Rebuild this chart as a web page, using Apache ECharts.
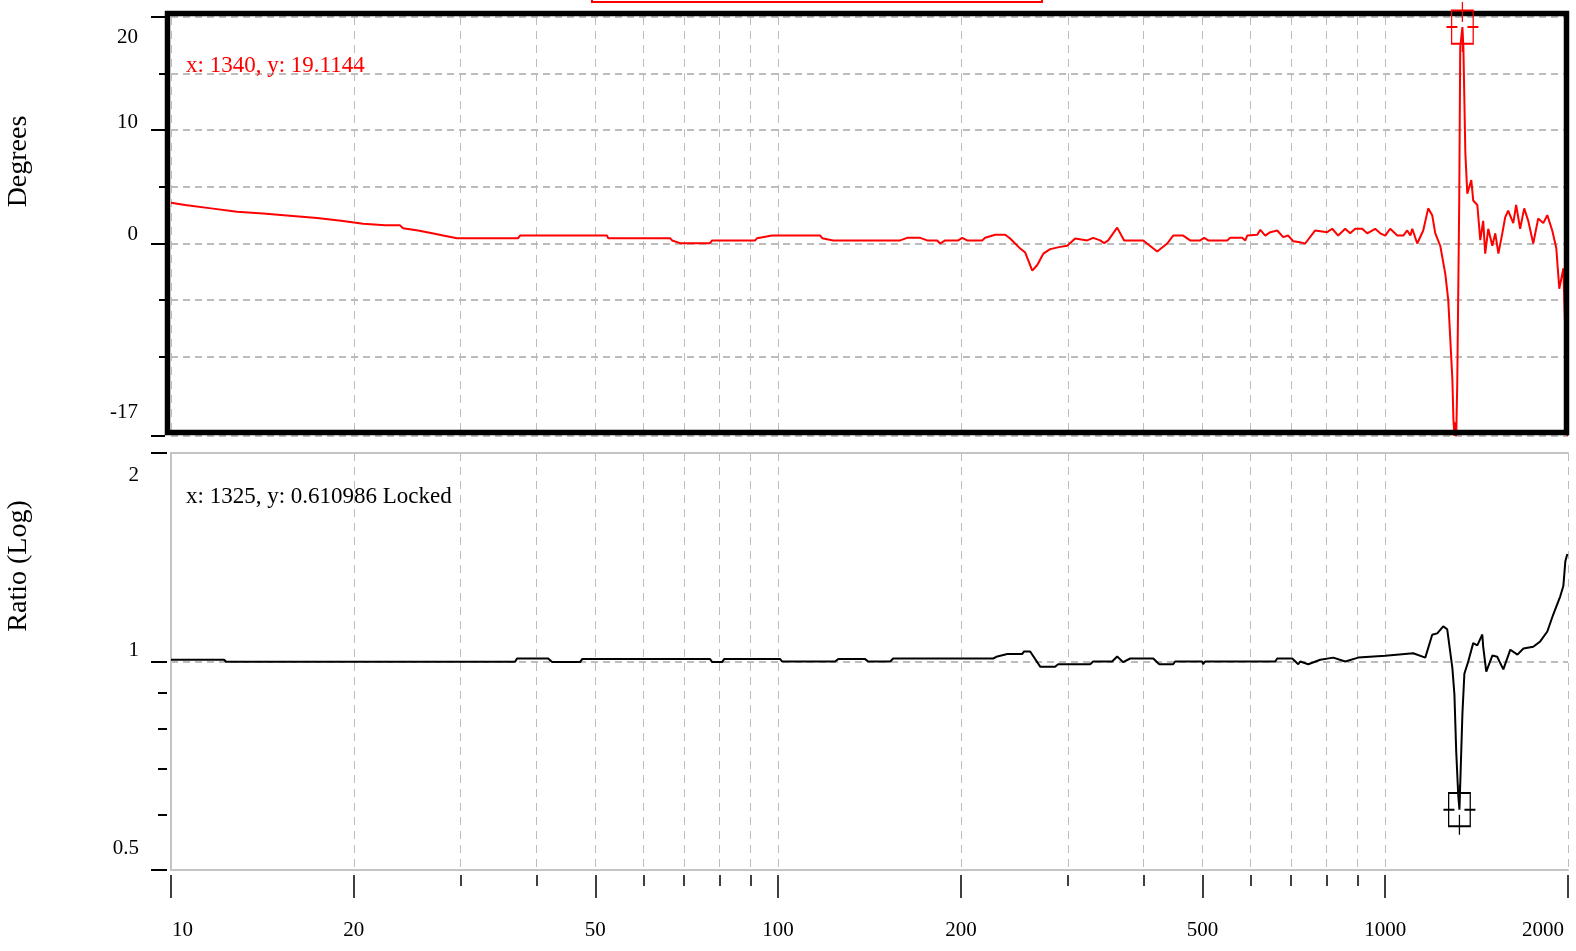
<!DOCTYPE html>
<html>
<head>
<meta charset="utf-8">
<title>Phase / Ratio</title>
<script src="https://cdn.jsdelivr.net/npm/echarts@6/dist/echarts.min.js"></script>
<style>
  html, body { margin: 0; padding: 0; background: #ffffff; }
  #chart { width: 1576px; height: 951px; }
</style>
</head>
<body>
<div id="chart"></div>
<script>
// ---- data ----
// Phase (degrees) against frequency (Hz)
const phaseFreq = [10, 10.55, 11.64, 12.85, 14.18, 15.7, 17.4, 19.06, 20.72, 22.52, 23.84, 24.11, 25.53, 26.92, 28.06, 29.59,
  37.31, 37.58, 52.27, 52.48, 66.39, 66.9, 68.96, 77.27, 77.86, 91.65, 92.35, 97.75, 117.3, 118.2, 123.2,
  158.9, 163.1, 171.4, 176, 182.8, 184.9, 188.4, 198, 201, 204.8, 216.8, 219.3, 227.8, 236.6, 241.1,
  250.5, 255.3, 262.2, 267.2, 273.4, 280.6, 291.5, 299.3, 308.5, 322.9, 330.3, 339.2, 344.4, 349.7,
  361.8, 371.5, 399.4, 421.1, 437.4, 447.4, 464.7, 477.2, 495.7, 503.3, 511, 549.2, 555.5, 581.4,
  588.1, 592.6, 615.5, 622.6, 634.5, 646.6, 663.9, 679.1, 692.2, 705.4, 724.4, 738.2, 766.7, 802.3,
  817.8, 836.6, 859.1, 875.5, 892.3, 916.3, 933.9, 962.7, 981.2, 1000, 1019, 1047, 1071, 1087, 1100,
  1108, 1129, 1155, 1177, 1195, 1209, 1232, 1256, 1270, 1290, 1295, 1300, 1305, 1309, 1314, 1324,
  1329, 1340, 1345, 1355, 1365, 1386, 1396, 1418, 1434, 1450, 1461, 1478, 1501, 1518, 1536, 1559,
  1576, 1594, 1625, 1643, 1668, 1694, 1720, 1753, 1786, 1821, 1849, 1884, 1913, 1935, 1965, 1980, 1995];
const phaseDeg = [3.6, 3.4, 3.1, 2.8, 2.65, 2.45, 2.25, 2.0, 1.75, 1.6, 1.6, 1.35, 1.15, 0.9, 0.7, 0.47,
  0.47, 0.7, 0.7, 0.47, 0.47, 0.27, 0.03, 0.03, 0.27, 0.27, 0.47, 0.7, 0.7, 0.47, 0.27,
  0.27, 0.5, 0.5, 0.27, 0.27, 0, 0.27, 0.27, 0.5, 0.27, 0.27, 0.5, 0.77, 0.77, 0.44,
  -0.45, -0.8, -2.4, -1.9, -0.9, -0.5, -0.3, -0.2, 0.44, 0.27, 0.5, 0.27, 0.03, 0.27,
  1.4, 0.27, 0.27, -0.7, 0, 0.7, 0.7, 0.27, 0.27, 0.5, 0.27, 0.27, 0.5, 0.5,
  0.27, 0.7, 0.77, 1.2, 0.7, 1.0, 1.15, 0.56, 0.7, 0.2, 0.1, 0, 1.15, 1.0,
  1.3, 0.7, 1.3, 0.9, 1.3, 1.3, 0.9, 1.3, 0.9, 0.7, 1.3, 0.7, 0.7, 1.15, 0.7,
  1.3, 0, 1.15, 3.1, 2.5, 0.9, -0.2, -2.7, -5, -12, -15.5, -17, -15.8, -17, -12.4, 3.8,
  17.3, 19.1144, 17.3, 8.0, 4.4, 5.6, 3.8, 3.4, 0.3, 2.0, -0.9, 1.3, -0.2, 0.9, -0.9, 0.9,
  2.3, 2.9, 1.8, 3.4, 1.3, 3.1, 2.0, 0.0, 2.2, 1.8, 2.5, 1.15, -0.4, -4.0, -2.2, -8.0, -17];

// Amplitude ratio (log scale) against frequency (Hz)
const ratioFreq = [10, 12.23, 12.32, 36.88, 37.15, 41.8, 42.44, 47.19, 47.55, 77.27, 77.86, 80.86, 81.47,
  100.8, 101.5, 124.1, 125.6, 139.1, 140.7, 153, 154.7, 226.1, 229.6, 238.5, 252.3, 254.2, 260.1,
  270.2, 285.9, 289.2, 326.6, 330.3, 354.9, 361.8, 370.1, 380.1, 414.8, 424.4, 447.4, 450.8, 499.4,
  501.2, 505, 658.9, 663.9, 702.8, 719, 724.4, 746.8, 781.5, 821.2, 859.1, 902.5, 1000, 1112, 1164,
  1195, 1218, 1246, 1265, 1290, 1300, 1309, 1319, 1325, 1340, 1350, 1370, 1396, 1418, 1445, 1450,
  1467, 1501, 1529, 1565, 1607, 1651, 1689, 1753, 1800, 1849, 1891, 1942, 1965, 1980, 1995];
const ratioVal = [1.006, 1.006, 0.999, 0.999, 1.01, 1.01, 0.998, 0.998, 1.008, 1.008, 0.998, 0.998, 1.008,
  1.008, 1.0, 1.0, 1.008, 1.008, 1.0, 1.0, 1.01, 1.01, 1.017, 1.025, 1.025, 1.034, 1.034,
  0.983, 0.983, 0.991, 0.991, 1.0, 1.0, 1.017, 0.998, 1.01, 1.01, 0.991, 0.991, 1.0, 1.0,
  0.991, 1.0, 1.0, 1.01, 1.01, 0.991, 1.0, 0.991, 1.006, 1.013, 1.0, 1.013, 1.019, 1.028, 1.013,
  1.093, 1.098, 1.124, 1.113, 0.978, 0.896, 0.74, 0.641, 0.610986, 0.84, 0.96, 1.0, 1.063, 1.055, 1.094, 1.05,
  0.967, 1.02, 1.016, 0.974, 1.04, 1.023, 1.044, 1.05, 1.069, 1.105, 1.169, 1.242, 1.285, 1.396, 1.43];

// Cursor readouts
const phaseCursor = [1340, 19.1144];
const ratioCursor = [1325, 0.610986];

// Axis ticks
const freqTicks = [10, 20, 30, 40, 50, 60, 70, 80, 90, 100, 200, 300, 400, 500, 600, 700, 800, 900, 1000, 2000];
const freqMajor = [10, 20, 50, 100, 200, 500, 1000, 2000];
const freqMinor = [30, 40, 60, 70, 80, 90, 300, 400, 600, 700, 800, 900];
const degMajor = [20, 10, 0, -17];
const degMinor = [15, 5, -5, -10];
const ratioMajor = [2, 1, 0.5];
const ratioMinor = [0.9, 0.8, 0.7, 0.6];

// ---- styling helpers ----
const FONT = '"Liberation Serif", "Times New Roman", serif';
const GRID_COLOR = '#bcbcbc';
const BOX_COLOR = '#c4c4c4';
const tickFont = { fontFamily: FONT, fontSize: 21, color: '#000' };

// Labels nudged vertically (y axes) or horizontally (x axis) via rich-text padding
function nudgedLabels(values, shifts, horizontal) {
  const rich = {};
  values.forEach((v, i) => {
    const s = shifts[i] || 0;
    let pad;
    if (horizontal) pad = s > 0 ? [0, 0, 0, 2 * s] : [0, -2 * s, 0, 0];
    else pad = s > 0 ? [2 * s, 0, 0, 0] : [0, 0, -2 * s, 0];
    rich['k' + i] = Object.assign({}, tickFont, { padding: pad });
  });
  return {
    rich: rich,
    formatter: function (val) {
      const i = values.findIndex(v => Math.abs(v - val) < 1e-6 * Math.max(1, Math.abs(v)));
      return i < 0 ? String(val) : '{k' + i + '|' + values[i] + '}';
    }
  };
}

const degLabels = nudgedLabels(degMajor, [20, -8, -9, -24], false);
const ratioLabels = nudgedLabels(ratioMajor, [22, -11, -22], false);
const freqLabelShift = freqMajor.map((v, i) => i === 0 ? 11.5 : (i === freqMajor.length - 1 ? -25 : 0));
const freqLabels = nudgedLabels(freqMajor, freqLabelShift, true);

const hidden = { show: false };
const vGrid = { show: true, lineStyle: { color: GRID_COLOR, width: 1, type: [8, 6] } };
const hGrid = { show: true, lineStyle: { color: GRID_COLOR, width: 2, type: [7, 5] } };

// Marker: square with a broken cross through it
const cursorSymbol = 'path://M5.2 8.4H26.8V41.6H5.2Z M0 25H11 M21 25H32 M16 0V20 M16 30V50';

const chart = echarts.init(document.getElementById('chart'), null, { renderer: 'canvas' });

const option = {
  animation: false,
  backgroundColor: '#ffffff',
  grid: [
    { left: 171, top: 17, width: 1397, height: 419, containLabel: false, outerBoundsMode: 'none' },
    { left: 171, top: 453, width: 1397, height: 417, containLabel: false, outerBoundsMode: 'none' }
  ],
  xAxis: [
    { // upper panel frequency axis (grid lines only)
      type: 'log', logBase: 10, min: 10, max: 2000, gridIndex: 0, position: 'bottom',
      axisLine: { show: false, onZero: false },
      axisTick: { show: false, customValues: freqTicks },
      axisLabel: { show: false },
      splitLine: vGrid
    },
    { // lower panel frequency axis (baseline + grid lines)
      type: 'log', logBase: 10, min: 10, max: 2000, gridIndex: 1, position: 'bottom',
      axisLine: { show: true, onZero: false, lineStyle: { color: BOX_COLOR, width: 2 } },
      axisTick: { show: false, customValues: freqTicks },
      axisLabel: { show: false },
      splitLine: vGrid
    },
    { // minor ticks
      type: 'log', logBase: 10, min: 10, max: 2000, gridIndex: 1, position: 'bottom', offset: 5,
      axisLine: { show: false, onZero: false },
      axisTick: { show: true, length: 11, customValues: freqMinor, lineStyle: { color: '#000', width: 1.5 } },
      axisLabel: { show: false },
      splitLine: hidden
    },
    { // major ticks + labels
      type: 'log', logBase: 10, min: 10, max: 2000, gridIndex: 1, position: 'bottom', offset: 5,
      axisLine: { show: false, onZero: false },
      axisTick: { show: true, length: 23, customValues: freqMajor, lineStyle: { color: '#000', width: 1.5 } },
      axisLabel: Object.assign({ show: true, customValues: freqMajor, margin: 45, hideOverlap: false }, tickFont, freqLabels),
      splitLine: hidden
    },
    { // top edge of the lower panel
      type: 'log', logBase: 10, min: 10, max: 2000, gridIndex: 1, position: 'top',
      axisLine: { show: true, onZero: false, lineStyle: { color: BOX_COLOR, width: 2 } },
      axisTick: hidden, axisLabel: hidden, splitLine: hidden
    }
  ],
  yAxis: [
    { // Degrees: major ticks, labels, title
      type: 'value', min: -17, max: 20, gridIndex: 0, position: 'left', offset: 6,
      name: 'Degrees', nameLocation: 'middle', nameRotate: 90, nameGap: 132,
      nameTextStyle: { fontFamily: FONT, fontSize: 28, color: '#000', padding: [0, 0, 0, 130] },
      axisLine: { show: false, onZero: false },
      axisTick: { show: true, length: 14, customValues: degMajor, lineStyle: { color: '#000', width: 2 } },
      axisLabel: Object.assign({ show: true, customValues: degMajor, margin: 27 }, tickFont, degLabels),
      splitLine: hGrid
    },
    { // Degrees: minor ticks
      type: 'value', min: -17, max: 20, gridIndex: 0, position: 'left', offset: 6,
      axisLine: { show: false, onZero: false },
      axisTick: { show: true, length: 6, customValues: degMinor, lineStyle: { color: '#000', width: 2 } },
      axisLabel: { show: false },
      splitLine: hGrid
    },
    { // Ratio: frame line + unity grid line
      type: 'log', logBase: 2, min: 0.5, max: 2, gridIndex: 1, position: 'left',
      axisLine: { show: true, onZero: false, lineStyle: { color: BOX_COLOR, width: 2 } },
      axisTick: { show: false, customValues: [1] },
      axisLabel: { show: false },
      splitLine: hGrid
    },
    { // Ratio: major ticks, labels, title
      type: 'log', logBase: 2, min: 0.5, max: 2, gridIndex: 1, position: 'left', offset: 4,
      name: 'Ratio (Log)', nameLocation: 'middle', nameRotate: 90, nameGap: 134,
      nameTextStyle: { fontFamily: FONT, fontSize: 28, color: '#000', padding: [0, 0, 0, 191] },
      axisLine: { show: false, onZero: false },
      axisTick: { show: true, length: 16, customValues: ratioMajor, lineStyle: { color: '#000', width: 2 } },
      axisLabel: Object.assign({ show: true, customValues: ratioMajor, margin: 28 }, tickFont, ratioLabels),
      splitLine: hidden
    },
    { // Ratio: minor ticks
      type: 'log', logBase: 2, min: 0.5, max: 2, gridIndex: 1, position: 'left', offset: 4,
      axisLine: { show: false, onZero: false },
      axisTick: { show: true, length: 9, customValues: ratioMinor, lineStyle: { color: '#000', width: 2 } },
      axisLabel: { show: false },
      splitLine: hidden
    }
  ],
  series: [
    {
      name: 'Phase', type: 'line', xAxisIndex: 0, yAxisIndex: 0,
      data: phaseFreq.map((f, i) => [f, phaseDeg[i]]),
      showSymbol: false, clip: true, z: 3,
      lineStyle: { color: '#ff0000', width: 2 }
    },
    {
      name: 'Ratio', type: 'line', xAxisIndex: 1, yAxisIndex: 2,
      data: ratioFreq.map((f, i) => [f, ratioVal[i]]),
      showSymbol: false, clip: true, z: 3,
      lineStyle: { color: '#000000', width: 2 }
    },
    {
      name: 'Phase cursor', type: 'scatter', xAxisIndex: 0, yAxisIndex: 0, clip: false, z: 20, silent: true,
      data: [phaseCursor], symbol: cursorSymbol, symbolSize: [32, 50],
      itemStyle: { color: 'rgba(0,0,0,0)', borderColor: '#ff0000', borderWidth: 1.6, opacity: 1 }
    },
    {
      name: 'Ratio cursor', type: 'scatter', xAxisIndex: 1, yAxisIndex: 2, clip: false, z: 20, silent: true,
      data: [ratioCursor], symbol: cursorSymbol, symbolSize: [32, 50],
      itemStyle: { color: 'rgba(0,0,0,0)', borderColor: '#000000', borderWidth: 1.6, opacity: 1 }
    }
  ],
  graphic: [
    { // heavy frame around the phase panel
      type: 'rect', z: 10, silent: true,
      shape: { x: 167.5, y: 13.5, width: 1399, height: 419 },
      style: { fill: 'none', stroke: '#000', lineWidth: 5.5 }
    },
    { // title box at the top edge
      type: 'rect', z: 10, silent: true,
      shape: { x: 592, y: -20, width: 450, height: 22 },
      style: { fill: 'none', stroke: '#ff0000', lineWidth: 2 }
    },
    {
      type: 'text', z: 10, silent: true, x: 186, y: 66,
      style: {
        text: 'x: ' + phaseCursor[0] + ', y: ' + phaseCursor[1],
        fill: '#ff0000', fontFamily: FONT, fontSize: 23, verticalAlign: 'middle', align: 'left'
      }
    },
    {
      type: 'text', z: 10, silent: true, x: 186, y: 497,
      style: {
        text: 'x: ' + ratioCursor[0] + ', y: ' + ratioCursor[1] + ' Locked',
        fill: '#000000', fontFamily: FONT, fontSize: 23, verticalAlign: 'middle', align: 'left'
      }
    }
  ]
};

chart.setOption(option);
</script>
</body>
</html>
